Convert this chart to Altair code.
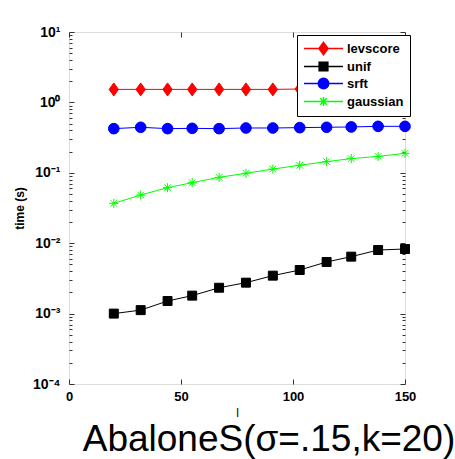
import altair as alt
import pandas as pd

l_values = [20, 32, 44, 55, 67, 79, 91, 103, 115, 126, 138, 150]
levscore = [1.53, 1.53, 1.53, 1.53, 1.53, 1.53, 1.53, 1.55, 1.55, 1.56, 1.58, 1.66]
unif = [0.00100, 0.00112, 0.00151, 0.00180, 0.00233, 0.00275, 0.00346, 0.00416,
        0.00541, 0.00644, 0.00800, 0.00827]
srft = [0.424, 0.443, 0.424, 0.428, 0.424, 0.433, 0.433, 0.438, 0.443, 0.448, 0.457, 0.457]
gaussian = [0.0368, 0.0484, 0.0615, 0.0724, 0.0862, 0.0983, 0.113, 0.128, 0.144,
            0.159, 0.171, 0.189]

series = ["levscore", "unif", "srft", "gaussian"]
colors = ["#ff0000", "#000000", "#0000ff", "#00ff00"]

x_ticks = [0, 50, 100, 150]
y_major = [1e-4, 1e-3, 1e-2, 1e-1, 1, 10]
y_minor = [m * 10.0 ** e for e in range(-4, 1) for m in range(2, 10)]

rows = []
for name, vals in zip(series, [levscore, unif, srft, gaussian]):
    for xv, yv in zip(l_values, vals):
        rows.append({"l": xv, "time": yv, "series": name})
df = pd.DataFrame(rows)

# marker paths (unit square) for plot markers
mk_paths = [
    "M0,-1L0.72,0L0,1L-0.72,0Z",
    "M-0.69,-0.69L0.69,-0.69L0.69,0.69L-0.69,0.69Z",
    "M0.82,0A0.82,0.82 0 1,1 -0.82,0A0.82,0.82 0 1,1 0.82,0Z",
    "M-0.7,0L0.7,0M0,-0.7L0,0.7M-0.5,-0.5L0.5,0.5M-0.5,0.5L0.5,-0.5",
]
# legend paths: line + marker, marker centred at x=2 (units of 6.5px)
lg_paths = [
    "M-1,0L5,0M2,-0.95L2.7,0L2,0.95L1.3,0Z",
    "M-1,0L5,0M1.33,-0.67L2.67,-0.67L2.67,0.67L1.33,0.67Z",
    "M2.8,0A0.8,0.8 0 1,1 1.2,0A0.8,0.8 0 1,1 2.8,0Z M-1,0L5,0",
    "M-1,0L5,0M2,-0.7L2,0.7M1.5,-0.5L2.5,0.5M1.5,0.5L2.5,-0.5",
]

FONT = "Liberation Sans"
xs = alt.Scale(domain=[0, 150], nice=False, zero=False)
ys = alt.Scale(type="log", domain=[1e-4, 10], nice=False)
cs = alt.Scale(domain=series, range=colors)

sup = "['10\u207b\u2074','10\u207b\u00b3','10\u207b\u00b2','10\u207b\u00b9','10\u2070','10\u00b9'][round(log(datum.value)/LN10)+4]"

base = alt.Chart(df)

lines = base.mark_line(strokeWidth=1).encode(
    x=alt.X("l:Q", scale=xs, axis=alt.Axis(
        values=x_ticks, format="d", tickSize=0, domain=False, grid=False,
        labelFont=FONT, labelFontWeight="bold", labelFontSize=13, labelColor="black",
        labelPadding=6, labelFlush=False, labelOverlap=False,
        title="l", titleFont=FONT, titleFontWeight="normal", titleFontSize=12,
        titleColor="black", titlePadding=4)),
    y=alt.Y("time:Q", scale=ys, axis=alt.Axis(
        values=y_major, labelExpr=sup, tickSize=0, domain=False, grid=False,
        labelFont=FONT, labelFontWeight="bold", labelFontSize=14, labelColor="black",
        labelPadding=9, labelOverlap=False,
        title="time (s)", titleFont=FONT, titleFontWeight="bold", titleFontSize=12,
        titleColor="black", titlePadding=6)),
    color=alt.Color("series:N", scale=cs, legend=None),
    detail="series:N",
)

points = base.mark_point(filled=True, size=169, strokeWidth=1, opacity=1).encode(
    x=alt.X("l:Q", scale=xs, axis=None),
    y=alt.Y("time:Q", scale=ys, axis=None),
    fill=alt.Fill("series:N", scale=cs, legend=None),
    stroke=alt.Stroke("series:N", scale=cs, legend=None),
    shape=alt.Shape("series:N", scale=alt.Scale(domain=series, range=mk_paths), legend=None),
)

lg = alt.Legend(
    title=None, orient="none", legendX=228, legendY=3,
    fillColor="white", strokeColor="black", padding=6,
    symbolSize=169, symbolStrokeWidth=1.5, symbolOpacity=1,
    labelFont=FONT, labelFontWeight="bold", labelFontSize=13, labelColor="black",
    labelOffset=29, rowPadding=1,
)
legend_layer = base.transform_filter("false").mark_point(
    filled=True, size=169, strokeWidth=1.5).encode(
    x=alt.X("l:Q", scale=xs, axis=None),
    y=alt.Y("time:Q", scale=ys, axis=None),
    fill=alt.Fill("series:N", scale=alt.Scale(domain=series, range=colors), legend=lg),
    stroke=alt.Stroke("series:N", scale=alt.Scale(domain=series, range=colors), legend=lg),
    shape=alt.Shape("series:N", scale=alt.Scale(domain=series, range=lg_paths), legend=lg),
)

def tick_layer(xorient, xsize, xvals, yorient, ysize, yvals):
    xa = alt.Axis(orient=xorient, values=xvals, labels=False, domain=False, grid=False,
                  ticks=True, tickSize=xsize, offset=-xsize, tickColor="#333",
                  title=None) if xvals else None
    ya = alt.Axis(orient=yorient, values=yvals, labels=False, domain=False, grid=False,
                  ticks=True, tickSize=ysize, offset=-ysize, tickColor="#333",
                  title=None)
    return base.mark_point(opacity=0).encode(
        x=alt.X("l:Q", scale=xs, axis=xa),
        y=alt.Y("time:Q", scale=ys, axis=ya),
    )

t1 = tick_layer("bottom", 5, x_ticks, "left", 5, y_major)
t2 = tick_layer("top", 5, x_ticks, "right", 5, y_major)
t3 = tick_layer("bottom", 3, None, "left", 3, y_minor)
t4 = tick_layer("top", 3, None, "right", 3, y_minor)

chart = alt.layer(t1, t2, t3, t4, lines, points, legend_layer).resolve_scale(
    fill="independent", stroke="independent", shape="independent"
).resolve_axis(x="independent", y="independent").properties(
    width=336, height=352,
    autosize=alt.AutoSizeParams(type="none"),
    padding={"left": 69, "top": 32, "right": 50, "bottom": 75},
    title=alt.Title("AbaloneS(\u03c3=.15,k=20)", orient="bottom", anchor="middle",
                    dx=32, offset=4, fontSize=37, font="Liberation Sans",
                    fontWeight="normal", color="black"),
).configure_view(stroke="#444", strokeWidth=1).configure(background="white")

chart.save("out.html", embed_options={"renderer": "svg", "actions": False})
